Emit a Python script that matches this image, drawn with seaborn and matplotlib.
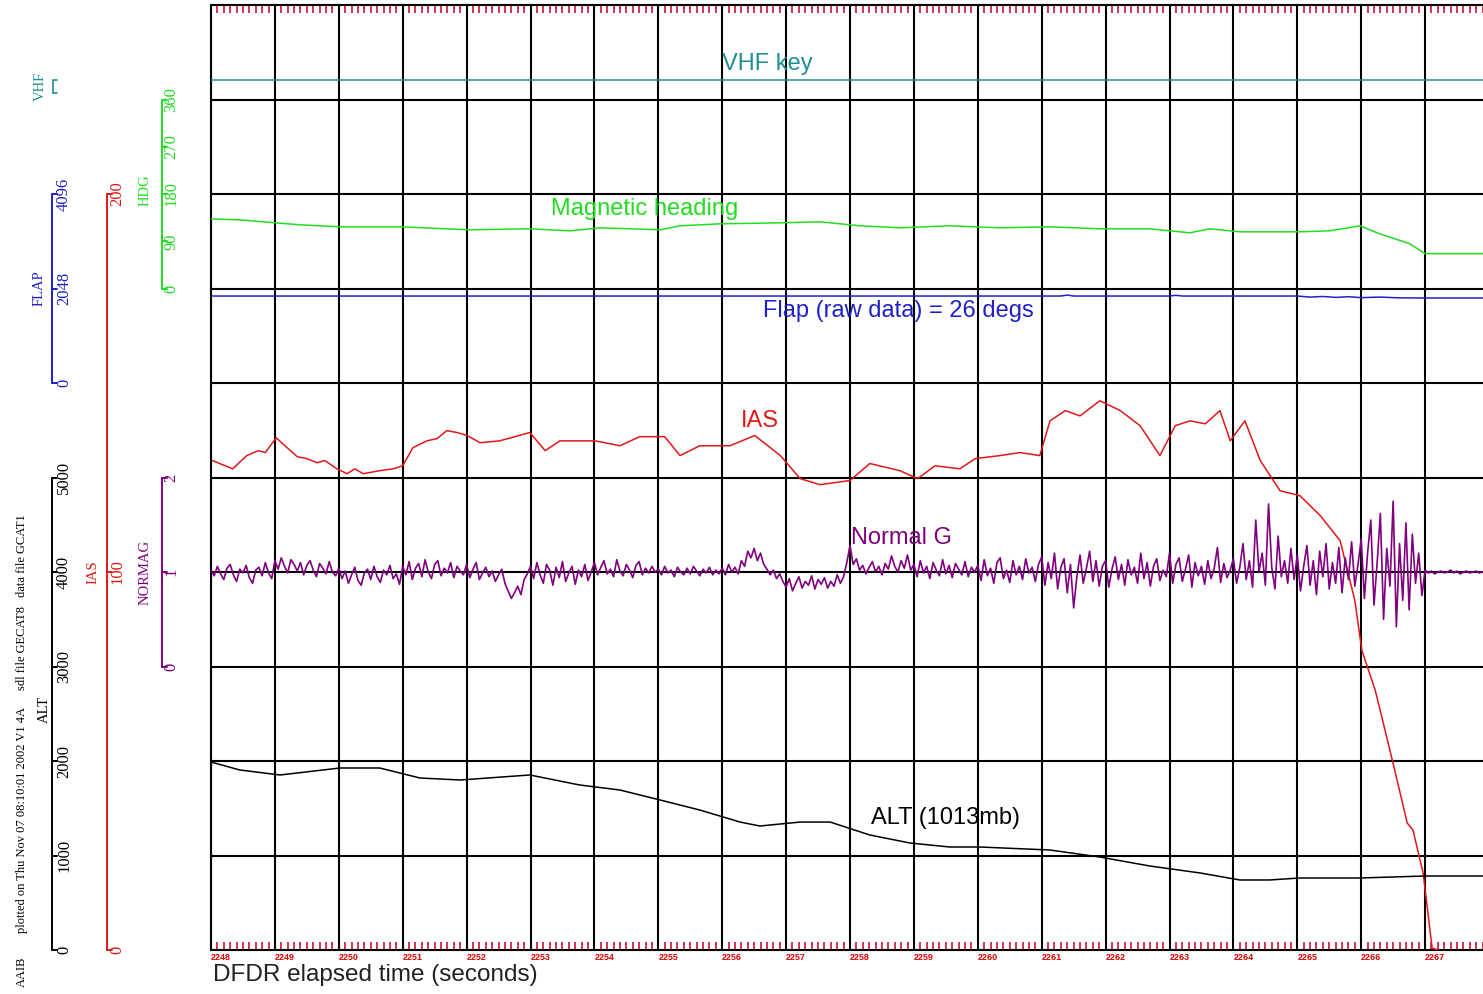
import matplotlib
matplotlib.use("Agg")
import matplotlib.pyplot as plt
import seaborn as sns
import pandas as pd
from matplotlib.lines import Line2D
from matplotlib.transforms import blended_transform_factory
from matplotlib.ticker import MultipleLocator, FixedLocator

sns.set_style("white")
plt.rcParams["font.family"] = ["Liberation Sans", "DejaVu Sans"]

# ---------------- data (time in seconds from left edge) ----------------
tick_labels = ["2248", "2249", "2250", "2251", "2252", "2253", "2254", "2255", "2256", "2257",
               "2258", "2259", "2260", "2261", "2262", "2263", "2264", "2265", "2266", "2267"]

ias_t = [0.02, 0.34, 0.56, 0.74, 0.85, 1.02, 1.19, 1.35, 1.50, 1.66, 1.78, 1.97, 2.13, 2.25, 2.38,
         2.64, 2.85, 3.00, 3.16, 3.38, 3.54, 3.69, 3.85, 4.01, 4.21, 4.52, 4.99, 5.23, 5.46, 6.01,
         6.40, 6.71, 7.10, 7.34, 7.65, 8.12, 8.51, 8.91, 9.22, 9.53, 10.00, 10.31, 10.78, 11.06,
         11.33, 11.72, 11.96, 12.35, 12.66, 12.97, 13.13, 13.37, 13.60, 13.91, 14.23, 14.54, 14.85,
         15.09, 15.32, 15.56, 15.79, 15.95, 16.18, 16.42, 16.73, 17.04, 17.36, 17.67, 17.90, 18.01,
         18.22, 18.45, 18.61, 18.72, 18.81, 18.97, 19.11, 19.20]
ias_kt = [129.5, 127.3, 130.8, 132.1, 131.6, 135.5, 132.9, 130.5, 130.0, 128.9, 129.5, 127.3, 126.0,
          127.3, 126.0, 126.8, 127.3, 128.1, 132.9, 134.7, 135.3, 137.4, 136.9, 136.1, 134.2, 134.7,
          136.9, 132.1, 134.7, 134.7, 133.4, 135.8, 135.8, 130.8, 133.4, 133.4, 136.1, 130.8, 124.7,
          123.1, 124.2, 128.7, 126.8, 124.7, 128.1, 127.3, 130.0, 130.8, 131.6, 130.8, 140.0, 142.7,
          141.3, 145.3, 142.7, 138.7, 130.8, 138.7, 140.0, 139.2, 142.7, 134.7, 140.0, 129.5, 121.5,
          120.2, 114.9, 108.3, 92.5, 79.3, 68.7, 52.8, 41.5, 33.6, 31.7, 20.3, 0.5, 0.0]

alt_t = [0.00, 0.45, 1.08, 2.02, 2.64, 3.27, 3.90, 4.99, 5.77, 6.40, 7.03, 7.65, 8.28, 8.59, 9.22,
         9.69, 10.31, 10.94, 11.56, 12.03, 13.13, 13.91, 14.69, 15.48, 16.10, 16.57, 17.04, 17.98,
         19.00, 19.91]
alt_ft = [1989, 1905, 1852, 1926, 1926, 1820, 1799, 1852, 1746, 1693, 1587, 1481, 1354, 1312, 1354,
          1354, 1217, 1132, 1090, 1090, 1058, 984, 889, 815, 741, 741, 762, 762, 783, 783]

hdg_t = [0.00, 0.45, 1.39, 2.02, 2.96, 4.05, 4.99, 5.62, 6.09, 7.03, 7.34, 7.97, 8.90, 9.53, 10.16,
         10.78, 11.56, 12.35, 13.13, 13.91, 14.69, 15.32, 15.63, 16.10, 17.04, 17.51, 17.98, 18.29,
         18.76, 19.00, 19.91]
hdg_deg = [132.6, 130.7, 121.3, 117.5, 117.5, 111.8, 113.7, 109.9, 115.6, 111.8, 119.4, 123.2, 125.1,
           127.0, 119.4, 115.6, 119.4, 115.6, 117.5, 113.7, 113.7, 106.1, 113.7, 108.0, 108.0, 109.9,
           119.4, 104.2, 85.3, 66.3, 66.3]

flap_t = [0.00, 13.30, 13.40, 13.50, 15.00, 15.10, 15.20, 17.00, 17.20, 17.40, 17.60, 17.80, 18.00,
          18.30, 18.60, 19.00, 19.91]
flap_raw = [1885, 1885, 1905, 1885, 1885, 1900, 1885, 1885, 1862, 1875, 1855, 1870, 1850, 1862,
            1845, 1842, 1842]

vhf_t = [0.00, 19.91]
vhf_key = [1, 1]

normg = [1.02, 0.96, 1.06, 0.98, 0.92, 1.04, 1.08, 0.97, 0.90, 1.03, 0.99, 1.07, 0.94, 0.88, 1.02, 1.05, 0.96, 1.10, 0.99, 0.93,
         1.12, 1.03, 1.15, 1.06, 0.99, 1.13, 1.08, 1.01, 1.10, 0.97, 1.07, 1.12, 1.02, 0.95, 1.09, 1.04, 0.98, 1.11, 1.00, 0.96,
         1.04, 0.93, 1.01, 0.88, 0.97, 1.05, 0.91, 0.86, 0.99, 1.03, 0.92, 1.06, 0.95, 0.89, 1.02, 0.97, 1.07, 0.93, 0.98, 0.87,
         1.06, 0.97, 1.11, 0.92, 1.04, 1.09, 0.95, 1.13, 1.00, 0.93, 1.08, 1.12, 0.96, 1.04, 0.99, 1.10, 0.94, 1.06, 1.01, 0.97,
         1.08, 0.94, 1.03, 1.10, 0.92, 0.99, 1.05, 0.95, 1.01, 0.90, 0.97, 1.03, 0.88, 0.80, 0.72, 0.78, 0.85, 0.76, 0.92, 0.98,
         1.06, 0.93, 1.10, 0.97, 0.88, 1.08, 1.02, 0.86, 1.05, 0.94, 1.11, 0.90, 0.99, 1.06, 0.87, 1.02, 0.95, 1.08, 0.91, 1.00,
         1.10, 0.97, 1.05, 1.12, 0.98, 1.03, 0.95, 1.13, 1.01, 0.96, 1.08, 1.02, 0.94, 1.07, 1.11, 0.97, 1.04, 0.99, 1.06, 1.00,
         1.03, 0.97, 1.06, 0.99, 1.02, 0.95, 1.05, 1.00, 0.97, 1.04, 0.98, 1.06, 1.01, 0.96, 1.03, 0.99, 1.05, 0.97, 1.02, 0.98,
         1.04, 0.97, 1.08, 1.00, 1.05, 0.98, 1.12, 1.06, 1.22, 1.15, 1.25, 1.12, 1.20, 1.08, 1.03, 0.97, 1.02, 0.93, 0.98, 0.90,
         0.84, 0.93, 0.80, 0.88, 0.95, 0.83, 0.90, 0.86, 0.96, 0.82, 0.92, 0.87, 0.94, 0.83, 0.90, 0.85, 0.97, 0.88, 0.95, 1.10,
         1.28, 1.08, 1.14, 1.02, 1.07, 0.98, 1.05, 1.11, 1.00, 1.06, 0.97, 1.09, 1.03, 1.17, 1.06, 1.00, 1.12, 1.04, 1.18, 1.02,
         1.08, 0.95, 1.12, 0.99, 1.06, 0.93, 1.10, 1.02, 0.96, 1.13, 0.98, 1.07, 0.94, 1.09, 1.03, 0.97, 1.11, 0.95, 1.05, 1.00,
         1.07, 0.91, 1.13, 0.96, 1.04, 0.88, 1.10, 1.15, 0.93, 1.02, 0.89, 1.12, 0.97, 1.06, 0.92, 1.14, 0.99, 1.05, 0.90, 1.08,
         1.16, 0.86, 1.10, 0.93, 1.20, 0.82, 1.05, 1.14, 0.78, 1.08, 0.62, 0.95, 1.18, 0.88, 1.04, 1.22, 0.90, 1.12, 0.85, 1.06,
         1.12, 0.84, 1.03, 1.16, 0.92, 1.08, 0.86, 1.13, 0.97, 1.05, 0.88, 1.20, 0.93, 1.10, 0.85, 1.06, 1.14, 0.91, 1.02, 0.95,
         1.20, 0.88, 1.08, 1.15, 0.90, 1.03, 1.18, 0.84, 1.10, 0.96, 1.06, 0.87, 1.12, 0.93, 1.04, 1.26, 0.89, 1.09, 0.94, 1.02,
         1.14, 0.88, 1.05, 1.30, 0.92, 1.12, 0.84, 1.55, 1.00, 1.20, 0.86, 1.72, 1.05, 0.82, 1.38, 0.95, 1.12, 0.88, 1.25, 0.92,
         1.18, 0.80, 1.06, 1.28, 0.86, 1.12, 0.76, 1.22, 0.95, 1.30, 0.82, 1.10, 0.88, 1.26, 0.78, 1.15, 0.92, 1.32, 0.85, 1.08,
         1.35, 0.72, 1.20, 1.55, 0.65, 1.10, 1.62, 0.50, 1.25, 0.85, 1.75, 0.42, 1.30, 0.70, 1.52, 0.60, 1.40, 0.88, 1.20, 0.75,
         1.02, 0.99, 1.01, 0.98, 1.00, 1.01, 0.99, 1.00, 1.02, 0.99, 1.01, 0.98, 1.00, 1.01, 0.99, 1.00, 1.01, 0.99, 1.00, 1.00]
normg_t = [i * 0.05 for i in range(len(normg))]

alt_ticks = [0, 1000, 2000, 3000, 4000, 5000]
ias_ticks = [0, 100, 200]
normag_ticks = [0, 1, 2]
flap_ticks = [0, 2048, 4096]
hdg_ticks = [0, 90, 180, 270, 360]

# ---------------- scales: each parameter to chart rows (0..10) ----------------
def alt_row(v): return v / 1000.0
def ias_row(v): return v * 0.04
def normag_row(v): return 3.0 + v
def flap_row(v): return 6.0 + v / 2048.0
def hdg_row(v): return 7.0 + v / 180.0
def vhf_row(v): return 9.07 + 0.137 * v

C_VHF = "#1f8f8f"
C_HDG = "#22dd22"
C_FLAP = "#2020c8"
C_IAS = "#e01818"
C_NG = "#800080"
C_ALT = "#000000"

W, H = 1483, 994
fig = plt.figure(figsize=(W / 100, H / 100), dpi=100)
ax = fig.add_axes([211 / W, 44 / H, 1272 / W, 945 / H])
ax.set_xlim(0, 1272 / 63.9)
ax.set_ylim(0, 10)

# grid
for i in range(0, 20):
    ax.axvline(i, color="black", lw=1.5, zorder=1)
for j in range(1, 10):
    ax.axhline(j, color="black", lw=1.5, zorder=1)

def draw(t, v, fn, color, lw=1.1):
    df = pd.DataFrame({"t": t, "r": [fn(x) for x in v]})
    sns.lineplot(data=df, x="t", y="r", ax=ax, color=color, lw=lw, estimator=None, sort=False, zorder=3)

draw(vhf_t, vhf_key, vhf_row, C_VHF)
draw(hdg_t, hdg_deg, hdg_row, C_HDG)
draw(flap_t, flap_raw, flap_row, C_FLAP)
draw(ias_t, ias_kt, ias_row, C_IAS)
draw(normg_t, normg, normag_row, C_NG, lw=1.2)
draw(alt_t, alt_ft, alt_row, C_ALT)

# series labels
lab_kw = dict(fontsize=17, ha="center", va="center", zorder=4)
ax.text(8.70, 9.38, "VHF key", color=C_VHF, **lab_kw)
ax.text(6.78, 7.84, "Magnetic heading", color=C_HDG, **lab_kw)
ax.text(10.75, 6.76, "Flap (raw data) = 26 degs", color=C_FLAP, **lab_kw)
ax.text(8.59, 5.60, "IAS", color=C_IAS, **lab_kw)
ax.text(10.80, 4.36, "Normal G", color=C_NG, **lab_kw)
ax.text(11.49, 1.40, "ALT (1013mb)", color=C_ALT, **lab_kw)

# axes styling
ax.set_xlabel("")
ax.set_ylabel("")
ax.set_yticks([])
for s in ["left", "bottom", "top"]:
    ax.spines[s].set_visible(True)
    ax.spines[s].set_color("black")
    ax.spines[s].set_linewidth(1.5)
ax.spines["right"].set_visible(False)
ax.xaxis.set_major_locator(FixedLocator(list(range(20))))
ax.xaxis.set_minor_locator(MultipleLocator(0.1))
ax.set_xticklabels(tick_labels)
ax.tick_params(axis="x", which="major", length=0, pad=2, labelsize=6.5, labelcolor="#e00000")
ax.tick_params(axis="x", which="minor", direction="in", length=6, width=1.2,
               color="#d0103a", top=True, bottom=True)
for lbl in ax.get_xticklabels():
    lbl.set_fontweight("bold")
    lbl.set_horizontalalignment("left")

fig.text(213 / W, (H - 975) / H, "DFDR elapsed time (seconds)", fontsize=17.5,
         color="#222222", ha="left", va="center")

# ---------------- left scale bars ----------------
trans = blended_transform_factory(fig.transFigure, ax.transData)
serif = ["Liberation Serif", "DejaVu Serif"]

def scale_bar(xpx, ticks, fn, color, lab_dx, title, title_xpx, title_row):
    x = xpx / W
    lo, hi = fn(ticks[0]), fn(ticks[-1])
    fig.add_artist(Line2D([x, x], [lo, hi], color=color, lw=1.4, transform=trans))
    for tv in ticks:
        r = fn(tv)
        fig.add_artist(Line2D([x, x + 5 / W], [r, r], color=color, lw=1.4, transform=trans))
        fig.text(x + lab_dx / W, r, str(tv), color=color, ha="center", va="center",
                 transform=trans, family=serif, fontsize=12, rotation=90)
    fig.text(title_xpx / W, title_row, title, color=color, ha="center", va="center",
             transform=trans, family=serif, fontsize=10.5, rotation=90)

scale_bar(52, alt_ticks, alt_row, C_ALT, 12, "ALT", 44, 2.55)
scale_bar(52, flap_ticks, flap_row, C_FLAP, 12, "FLAP", 39, 7.0)
scale_bar(107, ias_ticks, ias_row, C_IAS, 10, "IAS", 93, 4.0)
scale_bar(162, normag_ticks, normag_row, C_NG, 9, "NORMAG", 145, 4.0)
scale_bar(162, hdg_ticks, hdg_row, C_HDG, 9, "HDG", 145, 8.04)

# VHF key scale
xv = 53 / W
fig.add_artist(Line2D([xv + 4 / W, xv, xv, xv + 4 / W], [vhf_row(1), vhf_row(1), vhf_row(0), vhf_row(0)],
                      color=C_VHF, lw=1.2, transform=trans))
fig.text(40 / W, vhf_row(0.5), "VHF", color=C_VHF, ha="center", va="center", transform=trans,
         family=serif, fontsize=10.5, rotation=90)

# side notes
nfont = dict(family=serif, fontsize=9, rotation=90, color="black")
fig.text(22 / W, (H - 933) / H, "plotted on Thu Nov 07 08:10:01 2002 V1 4A", ha="center", va="bottom", **nfont)
fig.text(22 / W, (H - 690) / H, "sdl file GECAT8", ha="center", va="bottom", **nfont)
fig.text(22 / W, (H - 597) / H, "data file GCAT1", ha="center", va="bottom", **nfont)
fig.text(22 / W, (H - 972) / H, "AAIB", ha="center", va="center", **nfont)

fig.savefig("out.png", dpi=100, facecolor="white")
